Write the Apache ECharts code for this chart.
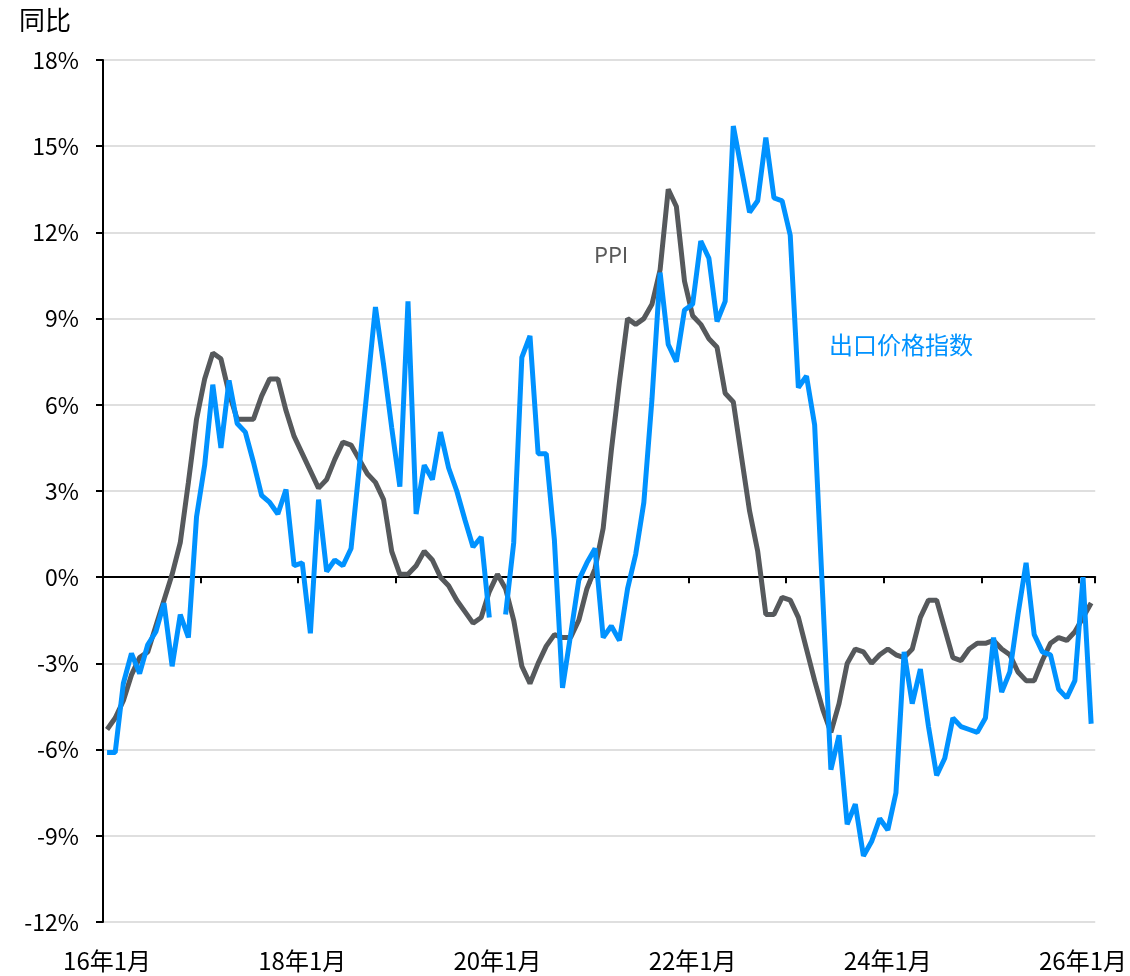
<!DOCTYPE html>
<html>
<head>
<meta charset="utf-8">
<title>出口价格指数与PPI</title>
<script src="https://cdn.jsdelivr.net/npm/echarts@6/dist/echarts.min.js"></script>
<style>
  html, body { margin: 0; padding: 0; background: #fff; }
  #main { width: 1130px; height: 976px; }
</style>
</head>
<body>
<div id="main"></div>
<script>
// 月份 2016-01 ~ 2026-02
let months = [];
for (let y = 16; y <= 26; y++) {
  for (let m = 1; m <= 12; m++) {
    if (y === 26 && m > 2) break;
    months.push(y + '年' + m + '月');
  }
}

// PPI 同比 (%)
let ppi = [
  -5.3, -4.9, -4.3, -3.4, -2.8, -2.6, -1.7, -0.8, 0.1, 1.2, 3.3, 5.5,
  6.9, 7.8, 7.6, 6.4, 5.5, 5.5, 5.5, 6.3, 6.9, 6.9, 5.8, 4.9,
  4.3, 3.7, 3.1, 3.4, 4.1, 4.7, 4.6, 4.1, 3.6, 3.3, 2.7, 0.9,
  0.1, 0.1, 0.4, 0.9, 0.6, 0.0, -0.3, -0.8, -1.2, -1.6, -1.4, -0.5,
  0.1, -0.4, -1.5, -3.1, -3.7, -3.0, -2.4, -2.0, -2.1, -2.1, -1.5, -0.4,
  0.3, 1.7, 4.4, 6.8, 9.0, 8.8, 9.0, 9.5, 10.7, 13.5, 12.9, 10.3,
  9.1, 8.8, 8.3, 8.0, 6.4, 6.1, 4.2, 2.3, 0.9, -1.3, -1.3, -0.7,
  -0.8, -1.4, -2.5, -3.6, -4.6, -5.4, -4.4, -3.0, -2.5, -2.6, -3.0, -2.7,
  -2.5, -2.7, -2.8, -2.5, -1.4, -0.8, -0.8, -1.8, -2.8, -2.9, -2.5, -2.3,
  -2.3, -2.2, -2.5, -2.7, -3.3, -3.6, -3.6, -2.9, -2.3, -2.1, -2.2, -1.9,
  -1.4, -0.9
];

// 出口价格指数 同比 (%)，20年1月缺失
let exportPrice = [
  -6.1, -6.1, -3.7, -2.65, -3.35, -2.35, -1.9, -0.9, -3.1, -1.3, -2.1, 2.1,
  3.9, 6.7, 4.5, 6.85, 5.35, 5.05, 4.0, 2.85, 2.6, 2.2, 3.05, 0.4,
  0.5, -1.95, 2.7, 0.2, 0.6, 0.4, 1.0, 3.8, 6.6, 9.4, 7.4, 5.2,
  3.15, 9.6, 2.2, 3.9, 3.4, 5.05, 3.8, 3.0, 2.0, 1.05, 1.4, -1.4,
  null, -1.3, 1.2, 7.65, 8.4, 4.3, 4.3, 1.3, -3.85, -2.0, -0.1, 0.5,
  1.0, -2.1, -1.7, -2.2, -0.4, 0.8, 2.6, 6.2, 10.6, 8.1, 7.5, 9.3,
  9.5, 11.7, 11.1, 8.9, 9.6, 15.7, 14.2, 12.7, 13.1, 15.3, 13.2, 13.1,
  11.9, 6.6, 7.0, 5.3, -0.7, -6.7, -5.5, -8.6, -7.9, -9.7, -9.2, -8.4,
  -8.8, -7.5, -2.6, -4.4, -3.2, -5.2, -6.9, -6.3, -4.9, -5.2, -5.3, -5.4,
  -4.9, -2.1, -4.0, -3.3, -1.3, 0.5, -2.0, -2.6, -2.7, -3.9, -4.2, -3.6,
  0.0, -5.1
];

let fontCN = '"Noto Sans CJK SC", "Noto Sans", sans-serif';
let chart = echarts.init(document.getElementById('main'), null, { renderer: 'canvas' });

let option = {
  animation: false,
  backgroundColor: '#fff',
  textStyle: { fontFamily: fontCN },
  title: {
    text: '同比',
    left: 14,
    top: 2,
    textStyle: { fontSize: 26, fontWeight: 'normal', color: '#000', fontFamily: fontCN }
  },
  grid: { left: 103, right: 34, top: 60, bottom: 54 },
  xAxis: [{
    // 0轴，带年度刻度
    type: 'category',
    data: months,
    position: 'bottom',
    boundaryGap: true,
    axisLine: { onZero: true, lineStyle: { color: '#000', width: 2 } },
    axisTick: { show: true, interval: 11, length: 6, lineStyle: { color: '#000', width: 2 } },
    axisLabel: { show: false },
    splitLine: { show: false }
  }, {
    // 底部标签
    type: 'category',
    data: months,
    position: 'bottom',
    boundaryGap: true,
    axisLine: { show: false, onZero: false },
    axisTick: { show: false },
    axisLabel: { interval: 23, margin: 27, fontSize: 24, color: '#000', fontFamily: fontCN },
    splitLine: { show: false }
  }],
  yAxis: {
    type: 'value',
    min: -12,
    max: 18,
    interval: 3,
    axisLine: { show: true, lineStyle: { color: '#000', width: 2 } },
    axisTick: { show: true, length: 7, lineStyle: { color: '#000', width: 2 } },
    axisLabel: { formatter: '{value}%', margin: 24, fontSize: 23, color: '#000', fontFamily: fontCN },
    splitLine: { show: true, lineStyle: { color: '#D4D4D4', width: 1.5 } }
  },
  graphic: [{
    type: 'text',
    left: 594,
    top: 244,
    style: { text: 'PPI', fontSize: 22, fill: '#595959', fontFamily: fontCN }
  }, {
    type: 'text',
    left: 829,
    top: 333,
    style: { text: '出口价格指数', fontSize: 24, fill: '#0092FF', fontFamily: fontCN }
  }],
  series: [{
    name: 'PPI',
    type: 'line',
    data: ppi,
    showSymbol: false,
    symbol: 'none',
    lineStyle: { color: '#56595C', width: 5 },
    z: 2
  }, {
    name: '出口价格指数',
    type: 'line',
    data: exportPrice,
    showSymbol: false,
    symbol: 'none',
    connectNulls: false,
    lineStyle: { color: '#0092FF', width: 5 },
    z: 3
  }]
};

chart.setOption(option);
</script>
</body>
</html>
